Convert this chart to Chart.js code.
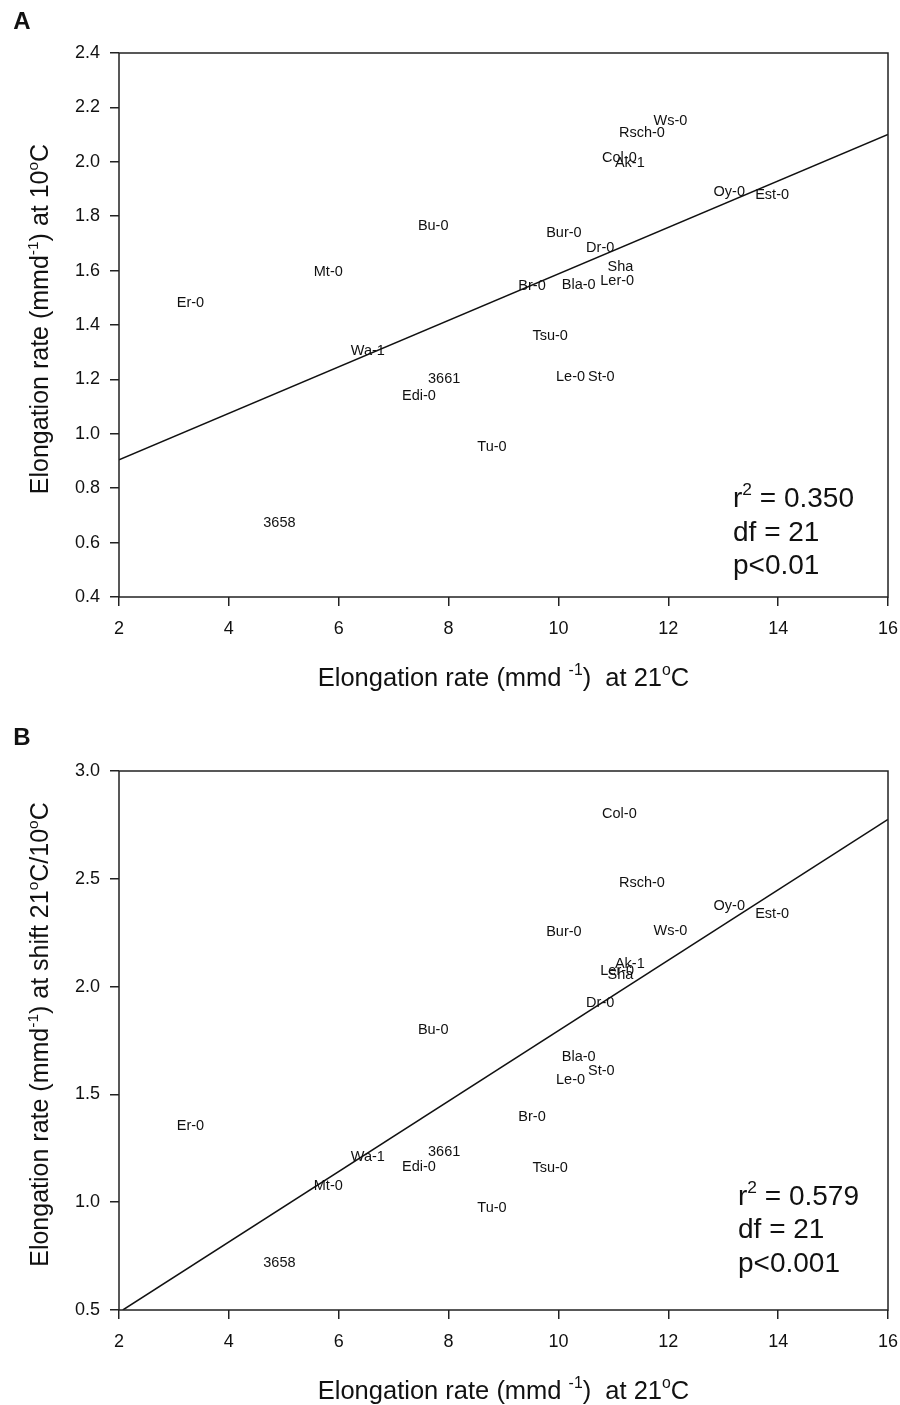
<!DOCTYPE html>
<html>
<head>
<meta charset="utf-8">
<title>Elongation rate at 21°C vs 10°C</title>
<script src="https://cdn.jsdelivr.net/npm/chart.js@4.4.1/dist/chart.umd.min.js"></script>
<style>
  body { margin: 0; background: #fff; }
  .panel { position: absolute; left: 0; width: 900px; }
</style>
</head>
<body>
<div class="panel" style="top:0;height:715px"><canvas id="chartA" width="900" height="715"></canvas></div>
<div class="panel" style="top:715px;height:690px"><canvas id="chartB" width="900" height="690"></canvas></div>
<script>
// accessions and their elongation rates (mm/d)
const accessions = ['Er-0', '3658', 'Mt-0', 'Wa-1', 'Edi-0', 'Bu-0', '3661', 'Tu-0', 'Br-0', 'Tsu-0', 'Bur-0', 'Le-0',
                    'Bla-0', 'Dr-0', 'St-0', 'Ler-0', 'Col-0', 'Sha', 'Ak-1', 'Rsch-0', 'Ws-0', 'Oy-0', 'Est-0'];
const rate21 = [3.30, 4.92, 5.81, 6.53, 7.46, 7.72, 7.92, 8.79, 9.52, 9.85, 10.10, 10.22,
                10.37, 10.76, 10.78, 11.07, 11.11, 11.13, 11.30, 11.52, 12.04, 13.11, 13.89];
const rate10 = [1.482, 0.673, 1.596, 1.306, 1.139, 1.764, 1.201, 0.953, 1.543, 1.361, 1.739, 1.208,
                1.546, 1.682, 1.210, 1.562, 2.013, 1.614, 1.997, 2.107, 2.151, 1.889, 1.879];
const rateShift = [1.353, 0.719, 1.075, 1.211, 1.165, 1.800, 1.231, 0.972, 1.397, 1.160, 2.253, 1.567,
                   1.675, 1.925, 1.610, 2.074, 2.799, 2.054, 2.103, 2.479, 2.259, 2.374, 2.335];

// regression lines (end points)
const fitAx = [2, 16];
const fitAy = [0.904, 2.101];
const fitBx = [2.07, 16];
const fitBy = [0.5, 2.776];

// tick labels
const xTicks = [2, 4, 6, 8, 10, 12, 14, 16];
const yTicksA = [0.4, 0.6, 0.8, 1.0, 1.2, 1.4, 1.6, 1.8, 2.0, 2.2, 2.4];
const yTicksB = [0.5, 1.0, 1.5, 2.0, 2.5, 3.0];

const FONT = '"Liberation Sans", Arial, Helvetica, sans-serif';
const INK = '#111';
Chart.defaults.font.family = FONT;
Chart.defaults.color = INK;

// text with superscript parts: parts = [[text, isSup], ...]
function richWidth(ctx, parts, size) {
  let w = 0;
  parts.forEach(([t, sup]) => {
    ctx.font = (sup ? size * 0.62 : size) + 'px ' + FONT;
    w += ctx.measureText(t).width;
  });
  return w;
}
function drawRich(ctx, parts, x, y, size, align) {
  const w = richWidth(ctx, parts, size);
  let cx = align === 'center' ? x - w / 2 : x;
  ctx.textAlign = 'left';
  ctx.textBaseline = 'alphabetic';
  parts.forEach(([t, sup]) => {
    ctx.font = (sup ? size * 0.62 : size) + 'px ' + FONT;
    ctx.fillText(t, cx, sup ? y - size * 0.42 : y);
    cx += ctx.measureText(t).width;
  });
}

const panelDecor = {
  id: 'panelDecor',
  afterDatasetsDraw(chart) {
    const { ctx, chartArea: a } = chart;
    const meta = chart.getDatasetMeta(0);
    ctx.save();
    ctx.font = '14.5px ' + FONT;
    ctx.fillStyle = INK;
    ctx.textAlign = 'center';
    ctx.textBaseline = 'middle';
    meta.data.forEach((pt, i) => ctx.fillText(accessions[i], pt.x, pt.y));
    ctx.strokeStyle = '#222';
    ctx.lineWidth = 1.5;
    ctx.strokeRect(a.left, a.top, a.right - a.left, a.bottom - a.top);
    ctx.restore();
  },
  afterDraw(chart, args, o) {
    const { ctx, chartArea: a } = chart;
    ctx.save();
    ctx.fillStyle = INK;
    // panel letter
    ctx.font = 'bold 24px ' + FONT;
    ctx.textAlign = 'center';
    ctx.textBaseline = 'middle';
    ctx.fillText(o.letter, 22, o.letterY);
    // x title
    drawRich(ctx, o.xTitle, (a.left + a.right) / 2, a.bottom + 89, 25.5, 'center');
    // y title
    ctx.save();
    ctx.translate(48, (a.top + a.bottom) / 2 - 6);
    ctx.rotate(-Math.PI / 2);
    drawRich(ctx, o.yTitle, 0, 0, 25, 'center');
    ctx.restore();
    // statistics
    o.stats.forEach((parts, i) => drawRich(ctx, parts, o.statsX, a.bottom - o.statsBase[i], 28, 'left'));
    ctx.restore();
  }
};

function makePanel(id, yVals, fitX, fitY, yTicks, yMin, yMax, areaTop, areaBottom, decor) {
  const canvas = document.getElementById(id);
  const points = rate21.map((x, i) => ({ x: x, y: yVals[i] }));
  const fit = fitX.map((x, i) => ({ x: x, y: fitY[i] }));
  const tickGrid = { drawOnChartArea: false, drawTicks: true, tickLength: 9, color: '#222', lineWidth: 1.5 };
  return new Chart(canvas, {
    type: 'scatter',
    data: {
      datasets: [
        { label: 'accessions', data: points, pointRadius: 0, pointHoverRadius: 0 },
        { label: 'fit', data: fit, showLine: true, borderColor: INK, borderWidth: 1.5, pointRadius: 0 }
      ]
    },
    options: {
      responsive: false,
      animation: false,
      events: [],
      layout: { padding: { top: areaTop, right: 12, left: 0, bottom: 0 } },
      plugins: { legend: { display: false }, tooltip: { enabled: false }, panelDecor: decor },
      scales: {
        x: {
          type: 'linear', min: 2, max: 16,
          afterBuildTicks: s => { s.ticks = xTicks.map(v => ({ value: v })); },
          afterFit: s => { s.height = canvas.height - areaBottom; s.paddingLeft = 0; s.paddingRight = 0; },
          grid: tickGrid,
          border: { display: false },
          ticks: { font: { size: 18 }, color: INK, padding: 12, maxRotation: 0 }
        },
        y: {
          type: 'linear', min: yMin, max: yMax,
          afterBuildTicks: s => { s.ticks = yTicks.map(v => ({ value: v })); },
          afterFit: s => { s.width = 119; s.paddingTop = 0; s.paddingBottom = 0; },
          grid: tickGrid,
          border: { display: false },
          ticks: { font: { size: 18 }, color: INK, padding: 10, callback: v => v.toFixed(1) }
        }
      }
    },
    plugins: [panelDecor]
  });
}

const xTitle = [['Elongation rate (mmd ', false], ['-1', true], [')  at 21', false], ['o', true], ['C', false]];

makePanel('chartA', rate10, fitAx, fitAy, yTicksA, 0.4, 2.4, 53, 597, {
  letter: 'A', letterY: 22,
  xTitle: xTitle,
  yTitle: [['Elongation rate (mmd', false], ['-1', true], [') at 10', false], ['o', true], ['C', false]],
  statsX: 733, statsBase: [90, 56, 23],
  stats: [[['r', false], ['2', true], [' = 0.350', false]], [['df = 21', false]], [['p<0.01', false]]]
});

makePanel('chartB', rateShift, fitBx, fitBy, yTicksB, 0.5, 3.0, 56, 595, {
  letter: 'B', letterY: 23,
  xTitle: xTitle,
  yTitle: [['Elongation rate (mmd', false], ['-1', true], [') at shift 21', false], ['o', true], ['C/10', false], ['o', true], ['C', false]],
  statsX: 738, statsBase: [105, 72, 38],
  stats: [[['r', false], ['2', true], [' = 0.579', false]], [['df = 21', false]], [['p<0.001', false]]]
});
</script>
</body>
</html>
